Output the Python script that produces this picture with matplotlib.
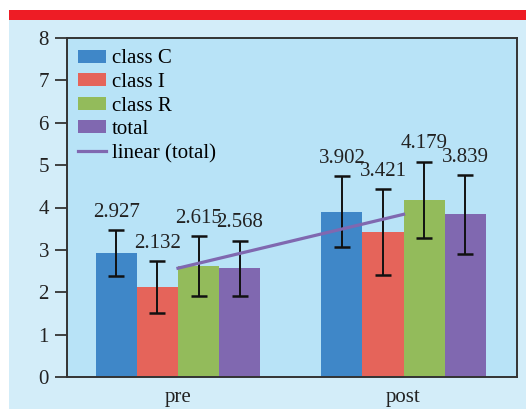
import numpy as np
from matplotlib import pyplot as plt
from matplotlib.patches import Rectangle
from matplotlib import rcParams
rcParams['font.family'] = 'serif'
rcParams['font.serif'] = ['Liberation Serif', 'DejaVu Serif']
rcParams['font.size'] = 15

groups = ['pre', 'post']
series = ['class C', 'class I', 'class R', 'total']
class_c = [2.927, 3.902]
class_i = [2.132, 3.421]
class_r = [2.615, 4.179]
total = [2.568, 3.839]
err_c = [0.54, 0.84]
err_i = [0.61, 1.02]
err_r = [0.71, 0.90]
err_total = [0.65, 0.93]
colors = ['#3f87c8', '#e5645a', '#93bb5b', '#8068b0']

fig = plt.figure(figsize=(5.26, 4.09), dpi=100)
fig.patch.set_facecolor('white')
# light blue panel and red band at the top
fig.patches.append(Rectangle((9/526, 0), 1, (409-19)/409, transform=fig.transFigure,
                             facecolor='#d3edf9', edgecolor='none', zorder=-2))
fig.patches.append(Rectangle((9/526, (409-19.5)/409), 1, 10/409, transform=fig.transFigure,
                             facecolor='#ee1c25', edgecolor='none', zorder=-2))

ax = fig.add_axes([67/526, 32/409, 450/526, 339/409])
ax.set_facecolor('#b8e3f7')

x = np.arange(len(groups))
w = 0.182
vals = [class_c, class_i, class_r, total]
errs = [err_c, err_i, err_r, err_total]
handles = []
for k in range(4):
    pos = x + (k - 1.5) * w
    b = ax.bar(pos, vals[k], w, color=colors[k], label=series[k], zorder=2)
    handles.append(b)
    ax.errorbar(pos, vals[k], yerr=errs[k], fmt='none', ecolor='#111111',
                elinewidth=1.4, capsize=6, capthick=1.8, zorder=3)
    for p, v, e in zip(pos, vals[k], errs[k]):
        ax.text(p, v + e + 0.42, '%.3f' % v, ha='center', va='center',
                fontsize=15, color='#222222', zorder=4)

ln, = ax.plot(x, total, color='#8068b0', lw=2.3, label='linear (total)', zorder=4)
handles.append(ln)

ax.set_xlim(-0.492, 1.503)
ax.set_ylim(0, 8)
ax.set_yticks(range(0, 9))
ax.set_xticks(x)
ax.set_xticklabels(groups)
ax.tick_params(axis='x', length=0, pad=8, labelsize=15, colors='#222222')
ax.tick_params(axis='y', length=9, width=1.3, pad=4, labelsize=15, colors='#333333',
               labelcolor='#222222')
for s in ax.spines.values():
    s.set_color('#333333')
    s.set_linewidth(1.4)

ax.legend(handles=handles, loc='upper left', frameon=False, fontsize=15,
          handlelength=1.3, handleheight=0.6, handletextpad=0.3, labelspacing=0.22,
          borderaxespad=0.15, bbox_to_anchor=(0.0, 1.0))

plt.savefig('out.png', dpi=100, facecolor=fig.get_facecolor())
